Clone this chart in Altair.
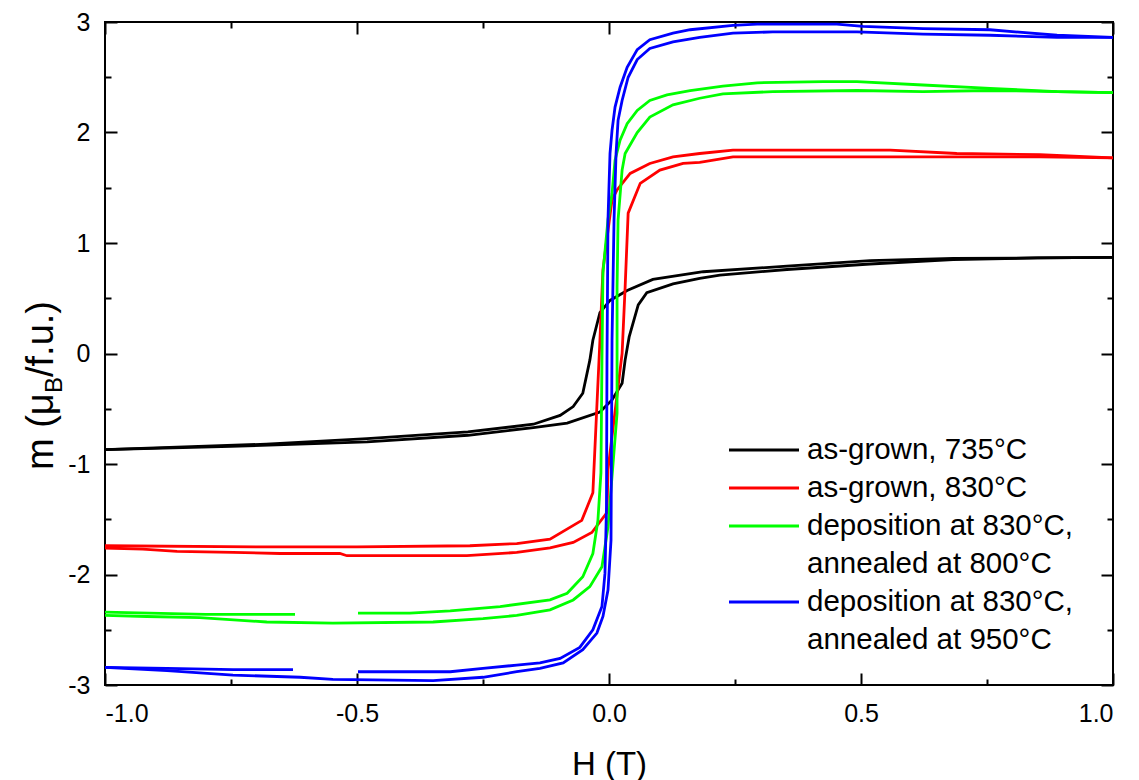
import altair as alt
import pandas as pd

# ---------------- data ----------------
series_names = ["as-grown, 735°C", "as-grown, 830°C",
                "deposition at 830°C, annealed at 800°C",
                "deposition at 830°C, annealed at 950°C"]
series_colors = ["#000000", "#ff0000", "#00ff00", "#0000ff"]

# black loop
bk_desc_H = [1.0, 0.85, 0.683, 0.518, 0.353, 0.187, 0.087, 0.036, 0.002, -0.018, -0.032, -0.038,
             -0.052, -0.071, -0.097, -0.15, -0.28, -0.48, -0.68, -1.0]
bk_desc_m = [0.87, 0.865, 0.86, 0.84, 0.79, 0.74, 0.67, 0.57, 0.48, 0.37, 0.12, -0.06,
             -0.36, -0.48, -0.56, -0.64, -0.71, -0.77, -0.82, -0.87]
bk_asc_H = [-1.0, -0.75, -0.48, -0.28, -0.15, -0.083, -0.018, 0.006, 0.026, 0.032, 0.040, 0.058,
            0.075, 0.127, 0.18, 0.22, 0.353, 0.518, 0.683, 0.85, 1.0]
bk_asc_m = [-0.87, -0.84, -0.80, -0.74, -0.67, -0.63, -0.53, -0.42, -0.27, -0.06, 0.15, 0.44,
            0.55, 0.63, 0.68, 0.71, 0.76, 0.81, 0.85, 0.865, 0.87]

# red loop
rd_desc_H = [1.0, 0.855, 0.69, 0.558, 0.35, 0.246, 0.18, 0.127, 0.081, 0.042, 0.016, 0.006,
             -0.012, -0.018, -0.032, -0.054, -0.117, -0.183, -0.276, -0.5, -0.7, -1.0]
rd_desc_m = [1.77, 1.80, 1.81, 1.84, 1.84, 1.84, 1.81, 1.78, 1.72, 1.63, 1.48, 1.39,
             0.76, 0.12, -1.26, -1.51, -1.68, -1.72, -1.74, -1.75, -1.75, -1.74]
rd_asc_H = [-1.0, -0.925, -0.857, -0.746, -0.653, -0.534, -0.52, -0.282, -0.183, -0.117, -0.071,
            -0.034, -0.004, -0.002, 0.018, 0.026, 0.032, 0.038, 0.062, 0.101, 0.147, 0.18, 0.246,
            0.558, 0.855, 1.0]
rd_asc_m = [-1.76, -1.77, -1.79, -1.80, -1.81, -1.81, -1.83, -1.83, -1.80, -1.76, -1.71,
            -1.62, -1.44, -1.05, -0.30, 0.0, 0.6, 1.27, 1.54, 1.66, 1.72, 1.73, 1.78,
            1.78, 1.78, 1.77]

# green loop
gr_desc_H = [1.0, 0.889, 0.756, 0.623, 0.492, 0.425, 0.294, 0.226, 0.161, 0.115, 0.081, 0.056,
             0.036, 0.022, 0.012, 0.006, -0.002, -0.012, -0.014, -0.016, -0.022, -0.032, -0.052,
             -0.083, -0.117, -0.216, -0.315, -0.395, -0.498]
gr_desc_m = [2.36, 2.37, 2.40, 2.43, 2.46, 2.46, 2.45, 2.42, 2.38, 2.34, 2.29, 2.20,
             2.08, 1.93, 1.75, 1.45, 1.21, 0.73, -0.06, -1.08, -1.51, -1.81, -2.02,
             -2.17, -2.23, -2.29, -2.33, -2.35, -2.35]
gr_tail_H = [-0.623, -0.8, -1.0]
gr_tail_m = [-2.36, -2.36, -2.34]
gr_asc_H = [-1.0, -0.917, -0.812, -0.679, -0.548, -0.349, -0.25, -0.183, -0.117, -0.071, -0.038,
            -0.014, -0.002, 0.016, 0.016, 0.018, 0.026, 0.032, 0.056, 0.081, 0.127, 0.18, 0.226,
            0.325, 0.492, 0.623, 0.756, 0.889, 1.0]
gr_asc_m = [-2.37, -2.38, -2.39, -2.43, -2.44, -2.43, -2.40, -2.37, -2.32, -2.23, -2.11,
            -1.93, -1.57, -0.54, 0.60, 1.21, 1.66, 1.81, 2.00, 2.14, 2.25, 2.31, 2.35,
            2.37, 2.38, 2.37, 2.38, 2.37, 2.36]

# blue loop
bl_desc_H = [1.0, 0.889, 0.756, 0.623, 0.504, 0.452, 0.294, 0.246, 0.161, 0.127, 0.081, 0.056,
             0.036, 0.022, 0.012, 0.006, 0.002, -0.002, -0.004, -0.005, -0.008, -0.014, -0.032,
             -0.058, -0.097, -0.137, -0.183, -0.25, -0.315, -0.498]
bl_desc_m = [2.86, 2.88, 2.93, 2.94, 2.96, 2.98, 2.98, 2.97, 2.93, 2.90, 2.84, 2.75,
             2.59, 2.41, 2.23, 2.02, 1.81, 1.21, -0.06, -1.39, -1.99, -2.29, -2.50,
             -2.66, -2.76, -2.80, -2.82, -2.85, -2.88, -2.88]
bl_tail_H = [-0.627, -0.746, -0.877, -1.0]
bl_tail_m = [-2.86, -2.86, -2.85, -2.84]
bl_asc_H = [-1.0, -0.877, -0.746, -0.613, -0.548, -0.349, -0.25, -0.183, -0.137, -0.091, -0.052,
            -0.024, -0.012, -0.002, 0.004, 0.006, 0.010, 0.014, 0.018, 0.026, 0.038, 0.056, 0.081,
            0.127, 0.18, 0.246, 0.325, 0.492, 0.623, 0.756, 0.889, 1.0]
bl_asc_m = [-2.84, -2.87, -2.91, -2.93, -2.95, -2.96, -2.93, -2.88, -2.85, -2.80, -2.68,
            -2.53, -2.38, -2.14, -1.69, 0.12, 1.21, 1.81, 2.11, 2.29, 2.50, 2.66, 2.76,
            2.82, 2.86, 2.90, 2.91, 2.91, 2.89, 2.88, 2.86, 2.86]

x_major = [-1.0, -0.5, 0.0, 0.5, 1.0]
x_all = [-1.0, -0.75, -0.5, -0.25, 0.0, 0.25, 0.5, 0.75, 1.0]
y_major = [-3, -2, -1, 0, 1, 2, 3]
y_all = [-3, -2.5, -2, -1.5, -1, -0.5, 0, 0.5, 1, 1.5, 2, 2.5, 3]

legend_lines = [["as-grown, 735°C"], ["as-grown, 830°C"],
                ["deposition at 830°C,", "annealed at 800°C"],
                ["deposition at 830°C,", "annealed at 950°C"]]

# ---------------- build table ----------------
rows = []
segments = [
    (0, "bk_d", bk_desc_H, bk_desc_m), (0, "bk_a", bk_asc_H, bk_asc_m),
    (1, "rd_d", rd_desc_H, rd_desc_m), (1, "rd_a", rd_asc_H, rd_asc_m),
    (2, "gr_d", gr_desc_H, gr_desc_m), (2, "gr_t", gr_tail_H, gr_tail_m), (2, "gr_a", gr_asc_H, gr_asc_m),
    (3, "bl_d", bl_desc_H, bl_desc_m), (3, "bl_t", bl_tail_H, bl_tail_m), (3, "bl_a", bl_asc_H, bl_asc_m),
]
for si, seg, hs, ms in segments:
    for i, (h, v) in enumerate(zip(hs, ms)):
        rows.append({"H": h, "m": v, "series": series_names[si], "seg": seg, "ord": i})
df = pd.DataFrame(rows)

W, Hh = 1008, 663
FONT = "Liberation Sans"
LW = 2.8

xscale = alt.Scale(domain=[-1, 1], nice=False, zero=False)
yscale = alt.Scale(domain=[-3, 3], nice=False, zero=False)

x_lab = "(datum.value < 0 ? '-' : '') + format(abs(datum.value), '.1f')"
y_lab = "(datum.value < 0 ? '-' : '') + format(abs(datum.value), 'd')"

base = alt.Chart(df)

lines = base.mark_line(strokeWidth=LW, clip=True).encode(
    x=alt.X("H:Q", scale=xscale,
            axis=alt.Axis(values=x_major, ticks=False, domain=False, grid=False,
                          labelExpr=x_lab, labelFontSize=25, labelPadding=16, labelColor="black",
                          title="H (T)", titleFontSize=33, titleFontWeight="normal",
                          titleColor="black", titleY=89, titleBaseline="alphabetic")),
    y=alt.Y("m:Q", scale=yscale,
            axis=alt.Axis(values=y_major, ticks=False, domain=False, grid=False,
                          labelExpr=y_lab, labelFontSize=25, labelPadding=15, labelColor="black",
                          title=None)),
    color=alt.Color("series:N", scale=alt.Scale(domain=series_names, range=series_colors), legend=None),
    detail="seg:N",
    order="ord:Q",
)

cond_x = {"condition": {"test": "abs(datum.value*2 - round(datum.value*2)) < 0.001", "value": 12}, "value": 6}
cond_y = {"condition": {"test": "abs(datum.value - round(datum.value)) < 0.001", "value": 12}, "value": 6}


def tick_layer(xo, yo):
    return base.mark_point(opacity=0).encode(
        x=alt.X("H:Q", scale=xscale,
                axis=alt.Axis(orient=xo, offset=-Hh, values=x_all, labels=False, domain=False,
                              grid=False, tickSize=cond_x, tickWidth=2, tickColor="black", title=None)),
        y=alt.Y("m:Q", scale=yscale,
                axis=alt.Axis(orient=yo, offset=-W, values=y_all, labels=False, domain=False,
                              grid=False, tickSize=cond_y, tickWidth=2, tickColor="black", title=None)),
    )


ticks_in_bottom_left = tick_layer("top", "right")
ticks_in_top_right = tick_layer("bottom", "left")

one = alt.Data(values=[{}])

# y-axis title with subscript
ytitle = [
    alt.Chart(one).mark_text(text="m (μ", angle=270, align="left", baseline="alphabetic",
                             fontSize=38, font=FONT, color="black").encode(x=alt.value(-52), y=alt.value(448)),
    alt.Chart(one).mark_text(text="B", angle=270, align="left", baseline="alphabetic",
                             fontSize=24, font=FONT, color="black").encode(x=alt.value(-43), y=alt.value(371)),
    alt.Chart(one).mark_text(text="/f.u.)", angle=270, align="left", baseline="alphabetic",
                             fontSize=38, font=FONT, color="black").encode(x=alt.value(-52), y=alt.value(355)),
]

# legend (inside the plot, lower right)
leg_layers = []
line_y0, line_gap = 428, 38
li = 0
for k, lab in enumerate(legend_lines):
    ysym = line_y0 + li * line_gap
    leg_layers.append(
        alt.Chart(one).mark_rule(strokeWidth=LW, color=series_colors[k]).encode(
            x=alt.value(624), x2=alt.value(694), y=alt.value(ysym)))
    for t in lab:
        leg_layers.append(
            alt.Chart(one).mark_text(text=t, align="left", baseline="middle", fontSize=29.5,
                                     font=FONT, color="black").encode(
                x=alt.value(702), y=alt.value(line_y0 + li * line_gap)))
        li += 1

chart = alt.layer(lines, ticks_in_bottom_left, ticks_in_top_right, *ytitle, *leg_layers).resolve_axis(
    x="independent", y="independent"
).properties(
    width=W, height=Hh,
    autosize=alt.AutoSizeParams(type="none"),
    padding={"left": 105, "top": 22, "right": 26, "bottom": 95},
    background="white",
).configure(font=FONT).configure_view(stroke="black", strokeWidth=2)

chart.save("out.html", embed_options={"renderer": "svg", "actions": False})
